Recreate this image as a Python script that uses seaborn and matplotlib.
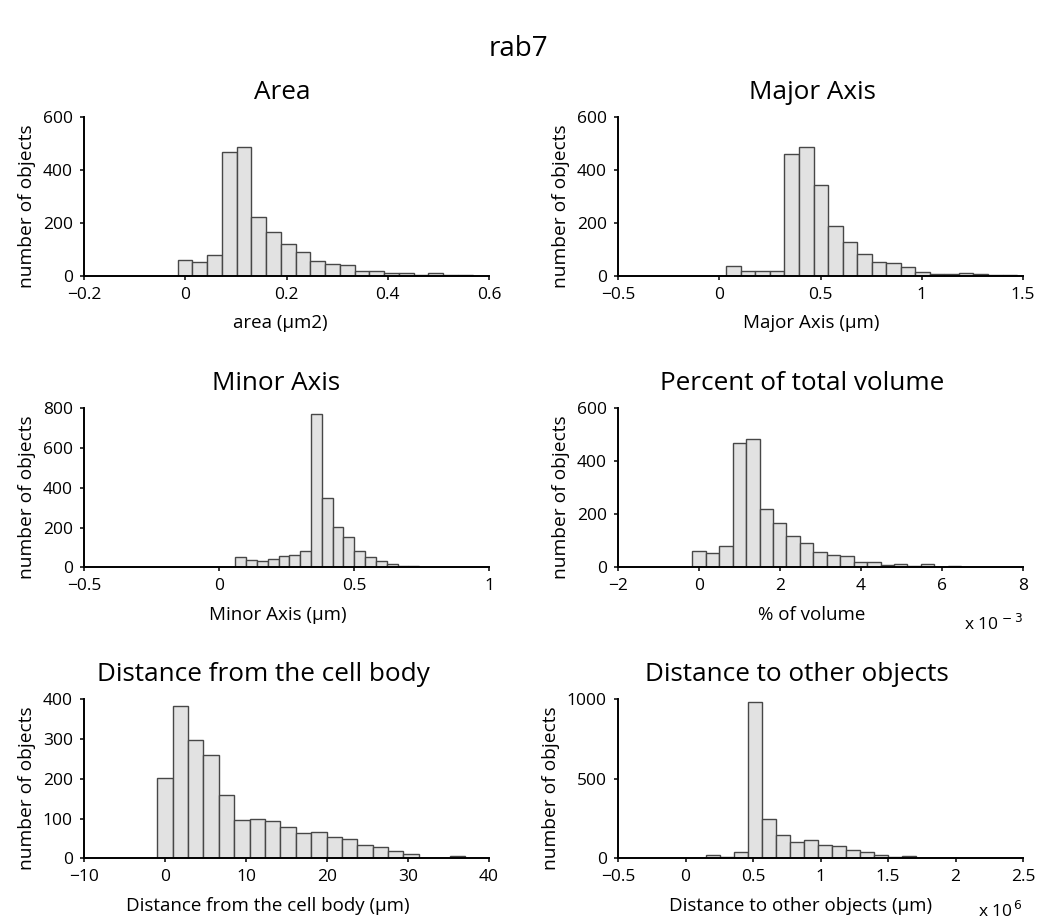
import numpy as np
import pandas as pd
import matplotlib
matplotlib.use("Agg")
import matplotlib.pyplot as plt
from matplotlib.ticker import FuncFormatter
import seaborn as sns

# ---- histogram data (counts per bin, first bin edge, bin width) ----
area_counts = [60, 54, 81, 467, 485, 221, 166, 120, 92, 58, 47, 42, 20, 20, 10, 12, 5, 11, 3, 5]
area_first_edge = -0.0152
area_bin_width = 0.02914

major_counts = [37, 20, 18, 19, 461, 485, 345, 187, 130, 83, 52, 48, 35, 15, 9, 8, 11, 9, 2, 4]
major_first_edge = 0.0347
major_bin_width = 0.0718

minor_counts = [54, 37, 30, 42, 57, 61, 84, 769, 347, 205, 152, 84, 50, 30, 17, 7, 5]
minor_first_edge = 0.0600
minor_bin_width = 0.0401

volume_counts = [61, 54, 81, 468, 486, 220, 167, 120, 92, 58, 47, 42, 19, 19, 10, 11, 5, 11, 3, 5]
volume_first_edge = -0.165      # in units of 1e-3
volume_bin_width = 0.332

body_counts = [201, 384, 298, 261, 160, 96, 98, 94, 79, 64, 65, 53, 49, 34, 28, 19, 10, 2, 2, 5]
body_first_edge = -0.945
body_bin_width = 1.899

other_counts = [3, 21, 8, 40, 980, 245, 148, 105, 117, 85, 79, 50, 40, 22, 10, 16, 4, 3, 5]
other_first_edge = 0.049        # in units of 1e6
other_bin_width = 0.1037

# ---- panel text ----
suptitle = "rab7"
titles = ["Area", "Major Axis", "Minor Axis", "Percent of total volume",
          "Distance from the cell body", "Distance to other objects"]
xlabels = ["area (\u00b5m2)", "Major Axis (\u00b5m)", "Minor Axis (\u00b5m)", "% of volume",
           "Distance from the cell body (\u00b5m)", "Distance to other objects (\u00b5m)"]
ylabel = "number of objects"
xlims = [(-0.2, 0.6), (-0.5, 1.5), (-0.5, 1.0), (-2, 8), (-10, 40), (-0.5, 2.5)]
xticks = [[-0.2, 0, 0.2, 0.4, 0.6], [-0.5, 0, 0.5, 1, 1.5], [-0.5, 0, 0.5, 1],
          [-2, 0, 2, 4, 6, 8], [-10, 0, 10, 20, 30, 40], [-0.5, 0, 0.5, 1, 1.5, 2, 2.5]]
ylims = [(0, 600), (0, 600), (0, 800), (0, 600), (0, 400), (0, 1000)]
yticks = [[0, 200, 400, 600], [0, 200, 400, 600], [0, 200, 400, 600, 800],
          [0, 200, 400, 600], [0, 100, 200, 300, 400], [0, 500, 1000]]
multipliers = [None, None, None, "x 10$^{\\,-3}$", None, "x 10$^{\\,6}$"]

# horizontal anchor (axes fraction) of each title and x label
title_x = [0.489, 0.479, 0.474, 0.454, 0.442, 0.442]
xlabel_x = [0.484, 0.478, 0.479, 0.479, 0.453, 0.452]
ylabel_y = 0.44

hists = [
    (area_counts, area_first_edge, area_bin_width),
    (major_counts, major_first_edge, major_bin_width),
    (minor_counts, minor_first_edge, minor_bin_width),
    (volume_counts, volume_first_edge, volume_bin_width),
    (body_counts, body_first_edge, body_bin_width),
    (other_counts, other_first_edge, other_bin_width),
]

sns.set_style("ticks")
plt.rcParams["font.family"] = ["Open Sans", "DejaVu Sans"]
plt.rcParams["axes.unicode_minus"] = True
for key in ("text.color", "axes.labelcolor", "xtick.color", "ytick.color"):
    plt.rcParams[key] = "black"

fig = plt.figure(figsize=(10.37, 9.21), dpi=100)

W, H = 1037, 921
col_left = [84, 618]
col_width = 405
row_bottom = [276, 567.3, 858.3]
row_height = 159


def fmt(v, _pos):
    s = "%g" % v
    return s.replace("-", "\u2212")


for i, ((counts, first_edge, width), title) in enumerate(zip(hists, titles)):
    r, c = divmod(i, 2)
    ax = fig.add_axes([col_left[c] / W, 1 - row_bottom[r] / H,
                       col_width / W, row_height / H])
    n = len(counts)
    edges = [first_edge + k * width for k in range(n + 1)]
    df = pd.DataFrame({
        "value": [(edges[k] + edges[k + 1]) / 2 for k in range(n)],
        "count": counts,
    })
    sns.histplot(data=df, x="value", weights="count", bins=edges, ax=ax,
                 color="#e2e2e2", edgecolor="#474747", linewidth=1.0, alpha=1.0)
    ax.set_xlim(*xlims[i])
    ax.set_ylim(*ylims[i])
    ax.set_xticks(xticks[i])
    ax.set_yticks(yticks[i])
    ax.xaxis.set_major_formatter(FuncFormatter(fmt))
    ax.yaxis.set_major_formatter(FuncFormatter(fmt))
    ax.set_title(title, fontsize=18.8, pad=13, x=title_x[i])
    ax.set_xlabel(xlabels[i], fontsize=13.5, labelpad=8)
    ax.set_ylabel(ylabel, fontsize=13.8, labelpad=5)
    ax.xaxis.label.set_x(xlabel_x[i])
    ax.yaxis.label.set_y(ylabel_y)
    sns.despine(ax=ax)
    for side in ("left", "bottom"):
        ax.spines[side].set_linewidth(1.4)
        ax.spines[side].set_color("black")
    ax.tick_params(axis="both", direction="out", length=3, width=1.1,
                   labelsize=12.5, pad=5)
    if multipliers[i]:
        ypos = -0.395 if r < 2 else -0.37
        ax.text(1.0, ypos, multipliers[i], transform=ax.transAxes,
                ha="right", va="baseline", fontsize=12.5)

fig.text(0.5, 0.947, suptitle, ha="center", va="center", fontsize=20)

fig.savefig("out.png", dpi=100, facecolor="white")
